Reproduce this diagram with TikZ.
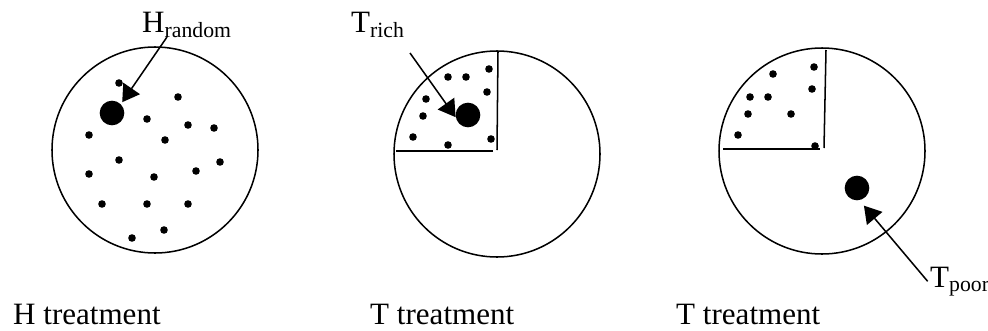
\documentclass[tikz,border=0pt]{standalone}
\usepackage{fontspec}
\setmainfont{Liberation Serif}
\usetikzlibrary{arrows.meta}

\begin{document}
\begin{tikzpicture}[x=0.03cm, y=-0.03cm,
    dish/.style={draw, circle, line width=1.3pt, minimum size=6.18cm, inner sep=0pt},
    bigdot/.style={circle, fill, minimum size=0.74cm, inner sep=0pt},
    pointer/.style={-{Triangle[length=5mm, width=6mm]}, line width=1.3pt},
    lab/.style={anchor=base west, inner sep=0pt, font=\fontsize{26.5}{30}\selectfont}]
    \useasboundingbox (0,0) rectangle (988,330);

    % the three dishes
    \node[dish] (hdish) at (155,150) {};
    \node[dish] (rdish) at (497,154) {};
    \node[dish] (pdish) at (822,151) {};

    % rich quarter in the T dishes
    \draw[line width=1.3pt] (498,51) -- (497,150);
    \draw[line width=1.3pt] (396,151) -- (493,151);
    \draw[line width=1.3pt] (826,50) -- (824,148);
    \draw[line width=1.3pt] (723,149) -- (820,149);

    % small dots
    \foreach \p in {(119,83),(178,97),(147,119),(188,125),(214,128),(89,135),
                    (165,140),(119,160),(220,162),(196,171),(89,174),(154,177),
                    (102,204),(147,204),(188,204),(164,230),(132,238)}
        \fill \p circle (3.8);
    \foreach \p in {(448,77),(466,77),(489,69),(487,92),(426,99),(423,116),
                    (413,137),(448,145),(491,139)}
        \fill \p circle (3.8);
    \foreach \p in {(814,67),(773,74),(812,89),(750,97),(768,97),(748,114),
                    (791,114),(738,135),(815,146)}
        \fill \p circle (3.8);

    % big dots
    \node[bigdot] (hbig) at (112,113) {};
    \node[bigdot] (rbig) at (468,115) {};
    \node[bigdot] (pbig) at (857,188) {};

    % labels
    \node[lab] (hlab) at (142,32) {H\textsubscript{random}};
    \node[lab] (rlab) at (351,32) {T\textsubscript{rich}};
    \node[lab] (plab) at (930,287) {T\textsubscript{poor}};

    \coordinate (htail) at (167,37);
    \coordinate (rtail) at (410,53);
    \draw[pointer, shorten >=2pt] (htail) -- (hbig.45);
    \draw[pointer] (rtail) -- (rbig.190);
    \draw[pointer, shorten >=6pt] ([xshift=-2pt]plab.west) -- (pbig.-79);

    % treatment names
    \node[lab] (hname) at (13,324) {H treatment};
    \node[lab] (rname) at (370,324) {T treatment};
    \node[lab] (pname) at (676,324) {T treatment};
\end{tikzpicture}
\end{document}
